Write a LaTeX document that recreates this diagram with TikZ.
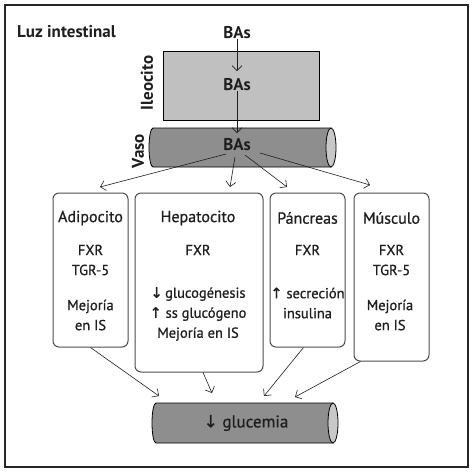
\documentclass[tikz,border=0pt]{standalone}
\usepackage{fontspec}
\setmainfont{PT Sans}[FakeBold=0.8]
\newfontfamily\boldfont{PT Sans Bold}
\newfontfamily\arrowfont{DejaVu Sans}[FakeBold=0.7]
\usetikzlibrary{arrows.meta}
\definecolor{ink}{HTML}{1E1E1E}
\definecolor{ileo}{HTML}{C0C0C0}
\definecolor{vessel}{HTML}{8E8E8E}
\definecolor{vesselend}{HTML}{C8C8C8}
\begin{document}
\begin{tikzpicture}[x=1pt,y=-1pt,
  txt/.style={font=\fontsize{14.5}{20}\selectfont, text=ink, inner sep=0pt, align=center},
  ttl/.style={font=\fontsize{16}{20}\selectfont, text=ink, inner sep=0pt},
  bold/.style={font=\boldfont\fontsize{17}{20}\selectfont, text=ink, inner sep=0pt},
  organ/.style={draw=black!70, line width=1pt, rounded corners=6pt, inner sep=0pt},
  tubebody/.style={fill=vessel, draw=black, line width=0.8pt},
  tubeend/.style={fill=vesselend, draw=black, line width=0.8pt},
  arr/.style={-{Straight Barb[length=5pt,width=10pt]}, line width=0.6pt, draw=ink},
]
\useasboundingbox (0,0) rectangle (476,472);
\draw[line width=1.2pt, draw=black!85] (5,5) rectangle (468,467);

\node[bold, anchor=west] (luz) at (17,32) {Luz intestinal};
\node[bold] (ba1) at (237,33) {BAs};

\node[draw=black, line width=0.8pt, fill=ileo, minimum width=156pt, minimum height=69pt] (ileo) at (241,85.5) {};
\node[bold, rotate=90] (ileolab) at (147,83) {Ileocito};
\node[bold] (ba2) at (237,85) {BAs};

% vessel (Vaso): x 149..336, y 128..167
\node[minimum width=187pt, minimum height=39pt, inner sep=0pt] (vaso) at (242.5,147.5) {};
\draw[tubebody] (331,128) -- (153,128) arc[start angle=270, end angle=90, x radius=4, y radius=19.5] -- (331,167) -- cycle;
\draw[tubeend] (331,147.5) ellipse[x radius=5, y radius=19.5];
\node[bold, rotate=90] (vasolab) at (138,151) {Vaso};
\node[bold] (ba3) at (237,145) {BAs};

\draw[arr] (ba1.south) -- (237,71);
\draw[arr] (ba2.south) -- (237,133);

% organ boxes
\node[organ, minimum width=75pt, minimum height=154pt] (adip) at (90.5,270) {};
\node[organ, minimum width=128pt, minimum height=179pt] (hepa) at (199,282.5) {};
\node[organ, minimum width=75pt, minimum height=154pt] (panc) at (307.5,270) {};
\node[organ, minimum width=75pt, minimum height=168pt] (musc) at (391.5,277) {};

\node[ttl] (adipt) at (90.5,218) {Adipocito};
\node[txt] (adip1) at (90.5,260) {FXR\\TGR-5};
\node[txt] (adip2) at (90.5,315) {Mejoría\\en IS};

\node[ttl] (hepat) at (198,218) {Hepatocito};
\node[txt] (hepa1) at (198,250) {FXR};
\node[txt] (hepa2) at (198,314) {{\arrowfont↓}\,glucogénesis\\{\arrowfont↑} ss glucógeno\\Mejoría en IS};

\node[ttl] (panct) at (307.5,218) {Páncreas};
\node[txt] (panc1) at (307.5,250) {FXR};
\node[txt] (panc2) at (307.5,303) {{\arrowfont↑} secreción\\insulina};

\node[ttl] (musct) at (391.5,218) {Músculo};
\node[txt] (musc1) at (391.5,260) {FXR\\TGR-5};
\node[txt] (musc2) at (390,315) {Mejoría\\en IS};

% glucemia vessel: x 152..338, y 403..443
\node[minimum width=186pt, minimum height=40pt, inner sep=0pt] (gluc) at (245,423) {};
\draw[tubebody] (333,403) -- (156,403) arc[start angle=270, end angle=90, x radius=4, y radius=20] -- (333,443) -- cycle;
\draw[tubeend] (333,423) ellipse[x radius=5, y radius=20];
\node[font=\fontsize{17}{20}\selectfont, text=ink, inner sep=0pt] (glucl) at (246,423) {{\arrowfont↓} glucemia};

% fan out
\coordinate (s1) at (226,154);
\coordinate (s2) at (235,157);
\coordinate (s3) at (245,155);
\coordinate (s4) at (260,153);
\draw[arr] (s1) -- (100,187);
\draw[arr] (s2) -- (230,187);
\draw[arr] (s3) -- (287,187);
\draw[arr] (s4) -- (370,185);

% fan in
\draw[arr] (adip.south) -- (159,396);
\draw[arr] ([xshift=4pt]hepa.south) -- (212,393);
\draw[arr] ([xshift=-4pt]panc.south) -- (264,396);
\draw[arr] ([xshift=-31pt]musc.south) -- (295,397);
\end{tikzpicture}
\end{document}
